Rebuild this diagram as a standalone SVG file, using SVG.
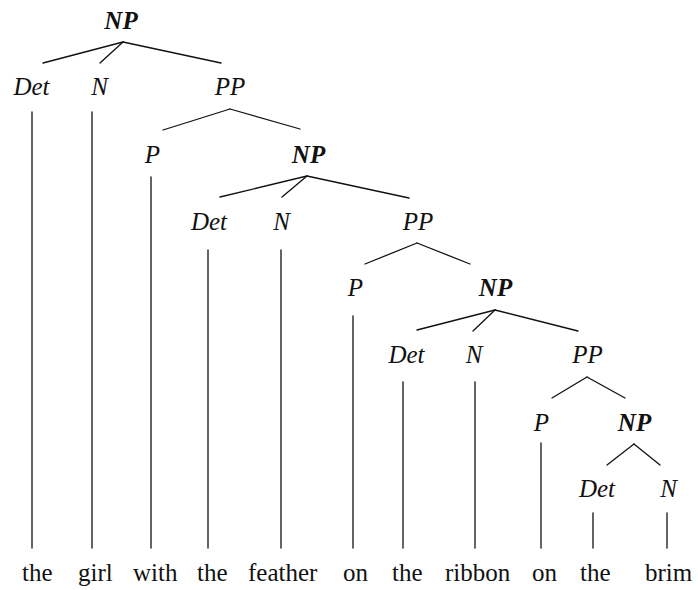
<svg xmlns="http://www.w3.org/2000/svg" width="698" height="590" viewBox="0 0 698 590">
<style>
.lab{font-family:"Liberation Serif","Times New Roman",serif;font-style:italic;font-size:25px;text-anchor:middle;fill:#111}
.np{font-weight:bold}
.w{font-family:"Liberation Serif","Times New Roman",serif;font-size:25px;fill:#111}
.e line{stroke:#111;stroke-width:1.3;stroke-linecap:round}
</style>
<rect width="698" height="590" fill="#fff"/>
<g id="connectors" class="e">
<line x1="123" y1="42" x2="43" y2="63"/>
<line x1="123" y1="42" x2="100" y2="63"/>
<line x1="123" y1="42" x2="221" y2="63"/>
<line x1="230" y1="109" x2="163" y2="130"/>
<line x1="230" y1="109" x2="300" y2="129"/>
<line x1="307" y1="176" x2="220" y2="197"/>
<line x1="307" y1="176" x2="282" y2="197"/>
<line x1="307" y1="176" x2="409" y2="198"/>
<line x1="417" y1="243" x2="365" y2="264"/>
<line x1="417" y1="243" x2="470" y2="264"/>
<line x1="495" y1="310" x2="417" y2="330"/>
<line x1="495" y1="310" x2="473" y2="331"/>
<line x1="495" y1="310" x2="578" y2="331"/>
<line x1="587" y1="377" x2="552" y2="398"/>
<line x1="587" y1="377" x2="625" y2="398"/>
<line x1="634" y1="444" x2="607" y2="465"/>
<line x1="634" y1="444" x2="660" y2="465"/>
<line x1="32" y1="112" x2="32" y2="548"/>
<line x1="92" y1="112" x2="92" y2="548"/>
<line x1="151" y1="177" x2="151" y2="548"/>
<line x1="208" y1="250" x2="208" y2="548"/>
<line x1="281" y1="250" x2="281" y2="548"/>
<line x1="353" y1="316" x2="353" y2="548"/>
<line x1="403" y1="382" x2="403" y2="548"/>
<line x1="475" y1="382" x2="475" y2="548"/>
<line x1="541" y1="443" x2="541" y2="548"/>
<line x1="593" y1="513" x2="593" y2="548"/>
<line x1="667" y1="513" x2="667" y2="548"/>
</g>
<g id="np1"><text class="lab np" x="121" y="29">NP</text></g>
<g id="det1"><text class="lab" x="31.5" y="95">Det</text></g>
<g id="n1"><text class="lab" x="99.5" y="95">N</text></g>
<g id="pp1"><text class="lab" x="230" y="95">PP</text></g>
<g id="p2"><text class="lab" x="152.5" y="163">P</text></g>
<g id="np2"><text class="lab np" x="308.5" y="163">NP</text></g>
<g id="det2"><text class="lab" x="209" y="230">Det</text></g>
<g id="n2"><text class="lab" x="281.5" y="230">N</text></g>
<g id="pp2"><text class="lab" x="418" y="230">PP</text></g>
<g id="p3"><text class="lab" x="355.5" y="296">P</text></g>
<g id="np3"><text class="lab np" x="495.5" y="296">NP</text></g>
<g id="det3"><text class="lab" x="406.5" y="363">Det</text></g>
<g id="n3"><text class="lab" x="474" y="363">N</text></g>
<g id="pp3"><text class="lab" x="587.5" y="363">PP</text></g>
<g id="p4"><text class="lab" x="541.5" y="431">P</text></g>
<g id="np4"><text class="lab np" x="634.5" y="431">NP</text></g>
<g id="det4"><text class="lab" x="597" y="497">Det</text></g>
<g id="n4"><text class="lab" x="668.5" y="497">N</text></g>
<g id="words">
<text class="w" x="22" y="581">the</text>
<text class="w" x="78" y="581">girl</text>
<text class="w" x="133" y="581">with</text>
<text class="w" x="197" y="581">the</text>
<text class="w" x="248" y="581">feather</text>
<text class="w" x="343" y="581">on</text>
<text class="w" x="392" y="581">the</text>
<text class="w" x="445" y="581">ribbon</text>
<text class="w" x="532" y="581">on</text>
<text class="w" x="580" y="581">the</text>
<text class="w" x="645" y="581">brim</text>
</g>
</svg>
